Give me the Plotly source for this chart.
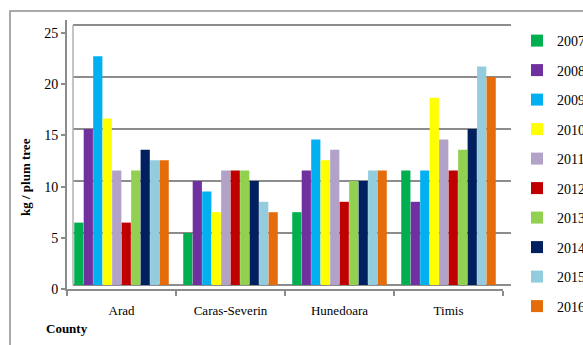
import plotly.graph_objects as go

counties = ["Arad", "Caras-Severin", "Hunedoara", "Timis"]
years = ["2007", "2008", "2009", "2010", "2011", "2012", "2013", "2014", "2015", "2016"]
v2007 = [6, 5, 7, 11]
v2008 = [15, 10, 11, 8]
v2009 = [22, 9, 14, 11]
v2010 = [16, 7, 12, 18]
v2011 = [11, 11, 13, 14]
v2012 = [6, 11, 8, 11]
v2013 = [11, 11, 10, 13]
v2014 = [13, 10, 10, 15]
v2015 = [12, 8, 11, 21]
v2016 = [12, 7, 11, 20]
series = [v2007, v2008, v2009, v2010, v2011, v2012, v2013, v2014, v2015, v2016]
colors = ["#00B050", "#7030A0", "#00B0F0", "#FFFF00", "#B3A2C7",
          "#C00000", "#92D050", "#002060", "#93CDDD", "#E46C0A"]
y_ticks = [0, 5, 10, 15, 20, 25]

FONT = "Liberation Serif"
W, H = 583, 345
L, R, T, B = 67, 80, 20, 56
pw, ph = W - L - R, H - T - B

def px_x(p):
    return (p - L) / pw

def px_y(p):
    return (H - B - p) / ph

fig = go.Figure()
for yr, vals, col in zip(years, series, colors):
    fig.add_trace(go.Bar(x=counties, y=vals, name=yr, marker_color=col,
                         marker_line_width=0, legendgroup=yr))

# invisible trace for the front (labelled) axis
fig.add_trace(go.Scatter(x=[counties[0]], y=[0], yaxis="y2", mode="markers",
                         marker_opacity=0, showlegend=False, hoverinfo="skip"))

grid_col = "#8c8c8c"
shapes = []
for v in y_ticks:
    shapes.append(dict(type="line", xref="paper", yref="y",
                       x0=px_x(73), x1=px_x(511), y0=v, y1=v,
                       line=dict(color=grid_col, width=2), layer="below"))
# back wall left edge
shapes.append(dict(type="line", xref="paper", yref="y", x0=px_x(73), x1=px_x(73),
                   y0=0, y1=25, line=dict(color="#b0b0b0", width=1.5), layer="below"))
# outer frame
shapes.append(dict(type="rect", xref="paper", yref="paper",
                   x0=px_x(10), x1=px_x(620), y0=px_y(11), y1=px_y(380),
                   line=dict(color="#8f8f8f", width=1.5), fillcolor="rgba(0,0,0,0)"))

fig.update_layout(
    width=W, height=H,
    margin=dict(l=L, r=R, t=T, b=B, autoexpand=False),
    paper_bgcolor="white", plot_bgcolor="white",
    barmode="group", bargap=0.13, bargroupgap=0.03,
    font=dict(family=FONT, size=13, color="black"),
    shapes=shapes,
    xaxis=dict(showline=True, linecolor=grid_col, linewidth=2, ticks="outside",
               tickson="boundaries", ticklen=5, tickcolor=grid_col, tickwidth=1.5,
               tickfont=dict(family=FONT, size=13), showgrid=False,
               ticklabelstandoff=8),
    yaxis=dict(range=[-0.385, 25.48], showgrid=False, zeroline=False,
               showticklabels=False, ticks=""),
    yaxis2=dict(range=[0, 26.27], overlaying="y", side="left", tickvals=y_ticks,
                showline=True, linecolor=grid_col, linewidth=2, ticks="outside",
                ticklen=4, tickcolor=grid_col, tickwidth=1.5, showgrid=False,
                zeroline=False, tickfont=dict(family=FONT, size=14)),
    legend=dict(x=px_x(517), y=px_y(25), xanchor="left", yanchor="top",
                font=dict(family=FONT, size=14), tracegroupgap=8.3,
                itemwidth=30, bgcolor="rgba(0,0,0,0)", maxheight=600),
    annotations=[
        dict(text="<b>kg / plum tree</b>", x=px_x(25), y=px_y(177), xref="paper",
             yref="paper", textangle=-90, showarrow=False, xanchor="center",
             yanchor="middle", font=dict(family=FONT, size=13)),
        dict(text="<b>County</b>", x=px_x(67), y=px_y(328), xref="paper",
             yref="paper", showarrow=False, xanchor="center", yanchor="middle",
             font=dict(family=FONT, size=13)),
    ],
)

fig.write_html("out.html", config={"displayModeBar": False},
               post_script="document.body.style.margin='0';")
